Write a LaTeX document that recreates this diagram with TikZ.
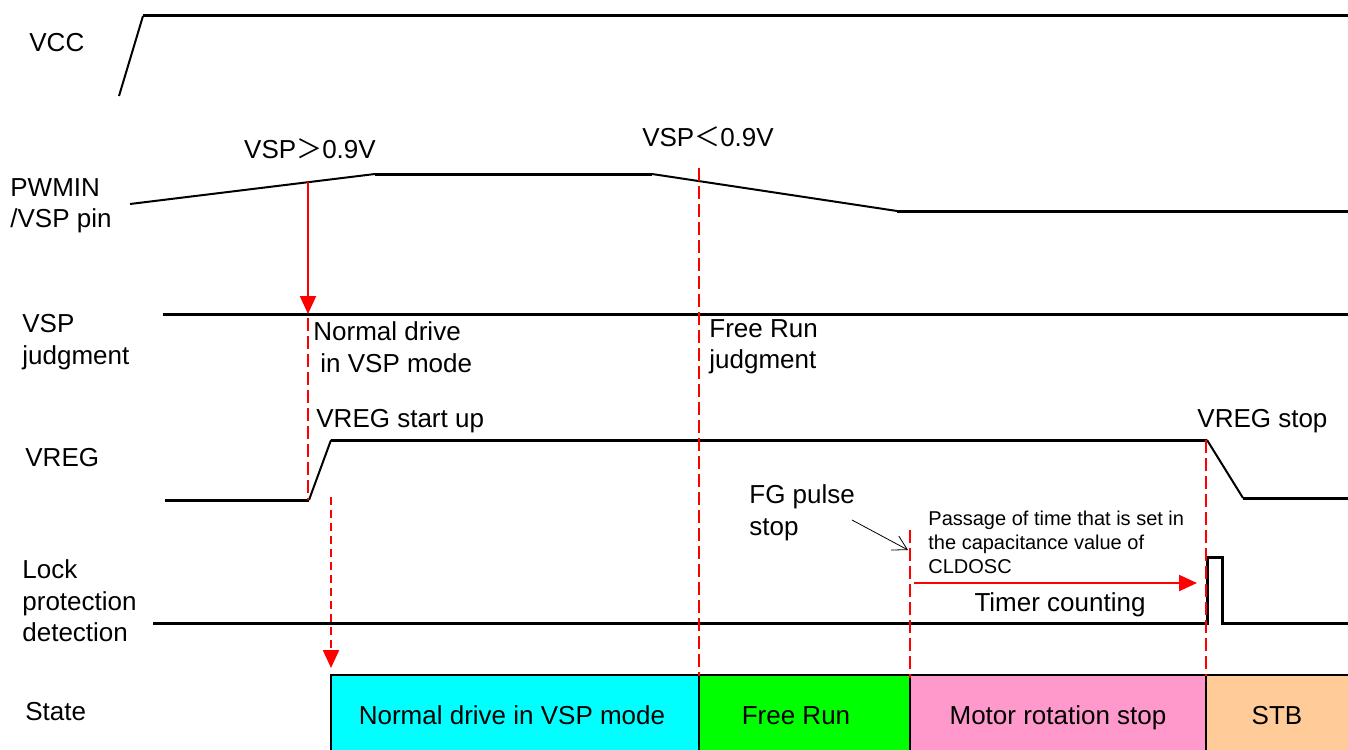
\documentclass[tikz,border=0pt]{standalone}
\usepackage{fontspec}
\setmainfont{Liberation Sans}
\newfontfamily\cjk{Noto Sans CJK SC}
\usetikzlibrary{arrows.meta}
\definecolor{cyanbox}{HTML}{00FFFF}
\definecolor{greenbox}{HTML}{00FF00}
\definecolor{pinkbox}{HTML}{FF99CC}
\definecolor{peachbox}{HTML}{FFCC99}
\definecolor{rd}{HTML}{FF0000}
\begin{document}
\begin{tikzpicture}[x=0.5pt,y=-0.5pt,
  lbl/.style={inner sep=0pt, anchor=west, align=left, font=\fontsize{13}{15.75}\selectfont},
  clbl/.style={inner sep=0pt, anchor=center, align=center, text height=9.3pt, text depth=0pt, font=\fontsize{13}{15.75}\selectfont},
  smalllbl/.style={inner sep=0pt, anchor=west, align=left, font=\fontsize{10}{12}\selectfont},
  wave/.style={line width=1.5pt, line join=miter},
  slope/.style={line width=1pt},
  redln/.style={draw=rd, line width=1.1pt},
  reddash/.style={redln, dash pattern=on 6.5pt off 2.5pt},
  reddot/.style={redln, dash pattern=on 4pt off 2.5pt},
  redtip/.style={-{Triangle[length=9pt,width=8pt]}},
  statebox/.style={draw=black, line width=0.75pt, inner sep=0pt, outer sep=0pt,
     minimum height=39pt, text height=9.3pt, text depth=0pt, font=\fontsize{13}{15.75}\selectfont}
]
\useasboundingbox (0,0) rectangle (1348,749);
\clip (0,0) rectangle (1348,749);

% ---- state boxes ----
\node[statebox, fill=cyanbox, minimum width=184pt] (s1) at (515,714) {};
\node[clbl] (s1t) at (512,715) {Normal drive in VSP mode};
\node[statebox, fill=greenbox, minimum width=105.5pt] (s2) at (804.5,714) {};
\node[clbl] (s2t) at (796,715) {Free Run};
\node[statebox, fill=pinkbox, minimum width=148pt] (s3) at (1058,714) {};
\node[clbl] (s3t) at (1058,715) {Motor rotation stop};
\node[statebox, fill=peachbox, minimum width=73pt] (s4) at (1279,714) {};
\node[clbl] (s4t) at (1277,715) {STB};

% ---- row labels ----
\node[lbl] (lvcc) at (29,43) {VCC};
\node[lbl] (lpwm) at (10,206) {PWMIN\\/VSP pin};
\node[lbl] (ljud) at (22,342) {VSP\\judgment};
\node[lbl] (lvreg) at (25,458) {VREG};
\node[lbl] (llock) at (22,601) {Lock\\protection\\detection};
\node[lbl] (lstate) at (25,712) {State};

% ---- VCC ----
\coordinate (v0) at (119,96);
\coordinate (v1) at (143,16);
\coordinate (v2) at (1350,16);
\draw[slope] (v0) -- (v1);
\draw[wave] (v1) -- (v2);

% ---- PWMIN / VSP ----
\coordinate (p0) at (130,204);
\coordinate (p1) at (375,174);
\coordinate (p2) at (652,174);
\coordinate (p3) at (897,211);
\coordinate (p4) at (1350,211);
\draw[slope] (p0) -- (p1);
\draw[wave] (p1) -- (p2);
\draw[slope] (p2) -- (p3);
\draw[wave] (p3) -- (p4);
\node[clbl] (gt) at (310,149) {VSP{\cjk ＞}0.9V};
\node[clbl] (lt) at (708,137) {VSP{\cjk ＜}0.9V};

% ---- VSP judgment ----
\coordinate (j0) at (163,314);
\coordinate (j1) at (1350,314);
\draw[wave] (j0) -- (j1);
\node[lbl] (nd) at (313,347) {Normal drive\\\hspace*{3.5pt}in VSP mode};
\node[lbl] (fr) at (709,347) {Free Run\\judgment};

% ---- VREG ----
\coordinate (r0) at (165,500);
\coordinate (r1) at (309,500);
\coordinate (r2) at (331,440);
\coordinate (r3) at (1207,440);
\coordinate (r4) at (1243,498);
\coordinate (r5) at (1350,498);
\draw[wave] (r0) -- (r1);
\draw[slope] (r1) -- (r2);
\draw[wave] (r2) -- (r3);
\draw[slope] (r3) -- (r4);
\draw[wave] (r4) -- (r5);
\node[lbl] (vsu) at (316,421) {VREG start up};
\node[lbl] (vst) at (1197,421) {VREG stop};

% ---- Lock protection ----
\coordinate (k0) at (153,623);
\coordinate (k1) at (1207,623);
\coordinate (k2) at (1207,557);
\coordinate (k3) at (1222,557);
\coordinate (k4) at (1222,623);
\coordinate (k5) at (1350,623);
\draw[wave] (k0) -- (k1) -- (k2) -- (k3) -- (k4) -- (k5);

\node[lbl] (fg) at (749,513) {FG pulse\\stop};
\node[smalllbl] (pas) at (928,542) {Passage of time that is set in\\the capacitance value of\\CLDOSC};
\node[clbl] (tc) at (1060,602) {Timer counting};

% ---- red markers ----
\coordinate (a0) at (308,182);
\coordinate (a1) at (308,314);
\draw[redln, redtip] (a0) -- (a1);
\coordinate (d0a) at (308,318);
\coordinate (d0b) at (308,500);
\draw[reddash] (d0a) -- (d0b);
\coordinate (d1a) at (699,168);
\coordinate (d1b) at (699,676);
\draw[reddash] (d1a) -- (d1b);
\coordinate (d2a) at (910,530);
\coordinate (d2b) at (910,678);
\draw[reddash] (d2a) -- (d2b);
\coordinate (d3a) at (1206,440);
\coordinate (d3b) at (1206,676);
\draw[reddash] (d3a) -- (d3b);
\coordinate (b0) at (331,497);
\coordinate (b1) at (331,668);
\draw[reddot, redtip] (b0) -- (b1);
\coordinate (t0) at (914,583);
\coordinate (t1) at (1197,583);
\draw[redln, redtip] (t0) -- (t1);

% ---- FG pointer ----
\coordinate (f0) at (852,520);
\coordinate (f1) at (908,550);
\draw[line width=0.4pt, -{Straight Barb[length=7pt,width=8pt]}] (f0) -- (f1);
\end{tikzpicture}
\end{document}
